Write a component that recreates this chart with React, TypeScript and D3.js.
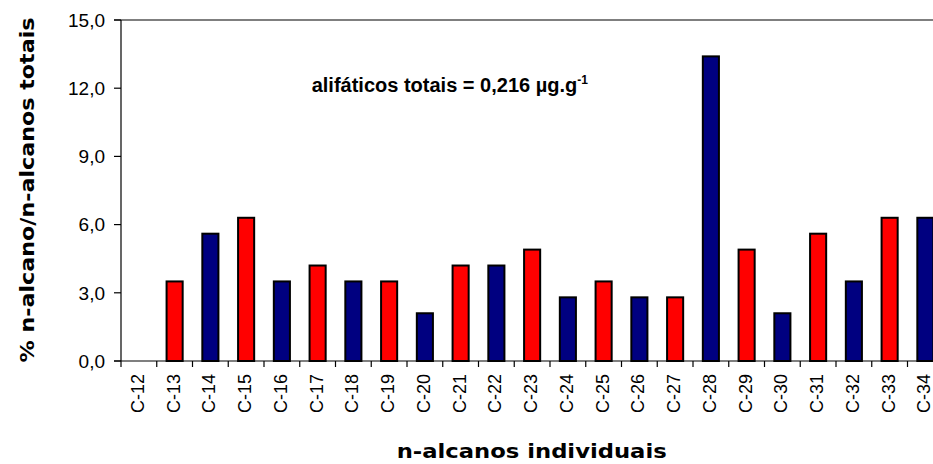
import React from "react";
import * as d3 from "d3";

const categories = ["C-12","C-13","C-14","C-15","C-16","C-17","C-18","C-19","C-20","C-21","C-22","C-23","C-24","C-25","C-26","C-27","C-28","C-29","C-30","C-31","C-32","C-33","C-34"];
const values = [0, 3.5, 5.6, 6.3, 3.5, 4.2, 3.5, 3.5, 2.1, 4.2, 4.2, 4.9, 2.8, 3.5, 2.8, 2.8, 13.4, 4.9, 2.1, 5.6, 3.5, 6.3, 6.3];
const yTicks = [0, 3, 6, 9, 12, 15];
const yTitle = "% n-alcano/n-alcanos totais";
const xTitle = "n-alcanos individuais";
const annotation = "alifáticos totais = 0,216 µg.g";
const annotationSup = "-1";

const W = 933, H = 464;
const left = 121, top = 20, bottom = 361;
const band = 35.75;

export default function App() {
  const x = d3.scaleBand<string>().domain(categories).range([left, left + band * categories.length]).padding(0);
  const y = d3.scaleLinear().domain([0, 15]).range([bottom, top]);
  const bw = x.bandwidth() * 0.45;
  const fmt = (v: number) => v.toFixed(1).replace(".", ",");
  const boundaries = d3.range(categories.length + 1).map(i => left + i * x.bandwidth());
  return (
    <svg width={W} height={H} style={{ position: "absolute", left: 0, top: 0, background: "#fff" }}>
      <rect x={0} y={0} width={W} height={H} fill="#fff" />
      {categories.map((c, i) => (
        values[i] > 0 ? (
          <rect key={c} x={(x(c) as number) + (x.bandwidth() - bw) / 2} y={y(values[i])} width={bw} height={bottom - y(values[i])}
            fill={i % 2 === 1 ? "#ff0000" : "#000080"} stroke="#000" strokeWidth={2} />
        ) : null
      ))}
      <line x1={left} x2={left} y1={top} y2={bottom} stroke="#000" strokeWidth={1.2} />
      <line x1={left - 7} x2={W} y1={bottom} y2={bottom} stroke="#000" strokeWidth={1.2} />
      <line x1={left - 7} x2={W} y1={top} y2={top} stroke="#000" strokeWidth={1.2} />
      {yTicks.map(t => (
        <g key={t}>
          <line x1={left - 7} x2={left} y1={y(t)} y2={y(t)} stroke="#000" strokeWidth={1.2} />
          <text x={105} y={y(t)} dy="0.36em" textAnchor="end" fontFamily="Liberation Sans, Arial, sans-serif" fontSize={19} fill="#000">{fmt(t)}</text>
        </g>
      ))}
      {boundaries.map((b, i) => (
        <line key={i} x1={b} x2={b} y1={bottom} y2={bottom + 6} stroke="#000" strokeWidth={1.2} />
      ))}
      {categories.map(c => {
        const cx = (x(c) as number) + x.bandwidth() / 2;
        return (
          <text key={c} transform={`translate(${cx},${374}) rotate(-90)`} dy="0.28em" textAnchor="end"
            fontFamily="Liberation Sans, Arial, sans-serif" fontSize={18} fill="#000">{c}</text>
        );
      })}
      <text transform={`translate(27,190) rotate(-90)`} dy="0.35em" textAnchor="middle" fontFamily="DejaVu Sans, sans-serif"
        fontWeight="bold" fontSize={20} textLength={345} lengthAdjust="spacingAndGlyphs" fill="#000">{yTitle}</text>
      <text x={531.7} y={458} textAnchor="middle" fontFamily="DejaVu Sans, sans-serif" fontWeight="bold" fontSize={20}
        textLength={270} lengthAdjust="spacingAndGlyphs" fill="#000">{xTitle}</text>
      <text x={311.7} y={91.5} fontFamily="Liberation Sans, Arial, sans-serif" fontWeight="bold" fontSize={20} fill="#000">
        {annotation}
        <tspan fontSize={12} dy={-8}>{annotationSup}</tspan>
      </text>
    </svg>
  );
}
